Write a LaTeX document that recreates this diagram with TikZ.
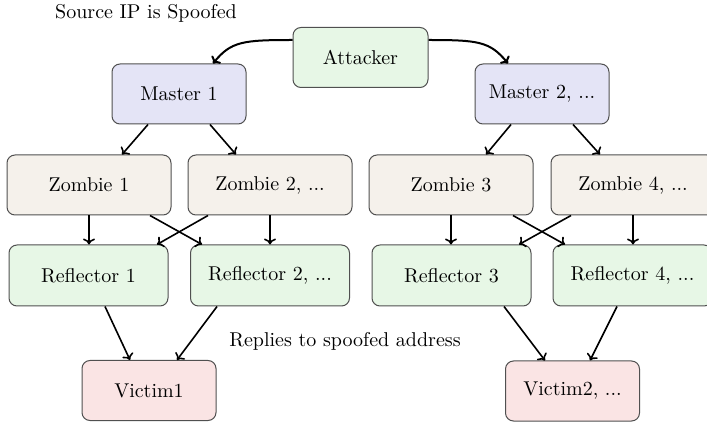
\documentclass[tikz,border=0pt]{standalone}
\usetikzlibrary{calc,arrows.meta}
\definecolor{cmaster}{RGB}{228,228,246}
\definecolor{czombie}{RGB}{245,241,235}
\definecolor{crefl}{RGB}{231,247,230}
\definecolor{cvictim}{RGB}{250,228,228}
\definecolor{cborder}{RGB}{80,80,80}
\begin{document}
\begin{tikzpicture}[x=0.5pt,y=-0.5pt,
  box/.style={draw=cborder,line width=0.5pt,rounded corners=4pt,inner sep=0pt,align=center},
  mbox/.style={box,fill=cmaster,minimum width=67pt,minimum height=30pt},
  abox/.style={box,fill=crefl,minimum width=67.5pt,minimum height=30pt},
  zbox/.style={box,fill=czombie,minimum width=82pt,minimum height=30pt},
  rbox/.style={box,fill=crefl,minimum width=79.5pt,minimum height=30.5pt},
  vbox/.style={box,fill=cvictim,minimum width=67pt,minimum height=30pt},
  arr/.style={-{To[length=3pt,width=6pt]},line width=0.8pt,black},
  carr/.style={arr,line width=1pt}]
\useasboundingbox (0,0) rectangle (707,422);
\begin{scope}
\clip (0,0) rectangle (707,422);
\node[abox] (att) at (360.5,57.5) {Attacker};
\node[mbox] (m1) at (179,94) {Master 1};
\node[mbox] (m2) at (542,94) {Master 2, ...};
\node[zbox] (z1) at (89,185) {Zombie 1};
\node[zbox] (z2) at (270,185) {Zombie 2, ...};
\node[zbox] (z3) at (451,185) {Zombie 3};
\node[zbox] (z4) at (633,185) {Zombie 4, ...};
\node[rbox] (r1) at (88.5,275.5) {Reflector 1};
\node[rbox] (r2) at (270,275.5) {Reflector 2, ...};
\node[rbox] (r3) at (451.5,275.5) {Reflector 3};
\node[rbox] (r4) at (632.5,275.5) {Reflector 4, ...};
\node[vbox] (v1) at (149,390.5) {Victim1};
\node[vbox] (v2) at (572.5,391) {Victim2, ...};
\node (lsrc) at (146,13) {Source IP is Spoofed};
\node (lrep) at (345,341) {Replies to spoofed address};

\draw[carr] ($(att.west)+(0,-17.5)$) .. controls ($(att.west)+(-50,-17.5)$) and ($(m1.north)+(52,-22)$) .. ($(m1.north)+(34,0)$);
\draw[carr] ($(att.east)+(0,-17.5)$) .. controls ($(att.east)+(50,-17.5)$) and ($(m2.north)+(-52,-22)$) .. ($(m2.north)+(-34,0)$);

\draw[arr] ($(m1.south)+(-31,0)$) -- ($(z1.north)+(33,0)$);
\draw[arr] ($(m1.south)+(31,0)$) -- ($(z2.north)+(-34,0)$);
\draw[arr] ($(m2.south)+(-31,0)$) -- ($(z3.north)+(35,0)$);
\draw[arr] ($(m2.south)+(31,0)$) -- ($(z4.north)+(-33,0)$);

\draw[arr] (z1.south) -- (z1.south |- r1.north);
\draw[arr] ($(z1.south)+(61,0)$) -- ($(r2.north)+(-68,0)$);
\draw[arr] ($(z2.south)+(-62,0)$) -- ($(r1.north)+(68.5,0)$);
\draw[arr] (z2.south) -- (z2.south |- r2.north);
\draw[arr] (z3.south) -- (z3.south |- r3.north);
\draw[arr] ($(z3.south)+(62,0)$) -- ($(r4.north)+(-67.5,0)$);
\draw[arr] ($(z4.south)+(-62,0)$) -- ($(r3.north)+(67.5,0)$);
\draw[arr] (z4.south) -- (z4.south |- r4.north);

\draw[arr] ($(r1.south)+(16.5,0)$) -- ($(v1.north)+(-19,0)$);
\draw[arr] ($(r2.south)+(-53,0)$) -- ($(v1.north)+(28,0)$);
\draw[arr] ($(r3.south)+(52.5,0)$) -- ($(v2.north)+(-27.5,0)$);
\draw[arr] ($(r4.south)+(-15.5,0)$) -- ($(v2.north)+(17.5,0)$);
\end{scope}
\end{tikzpicture}
\end{document}
